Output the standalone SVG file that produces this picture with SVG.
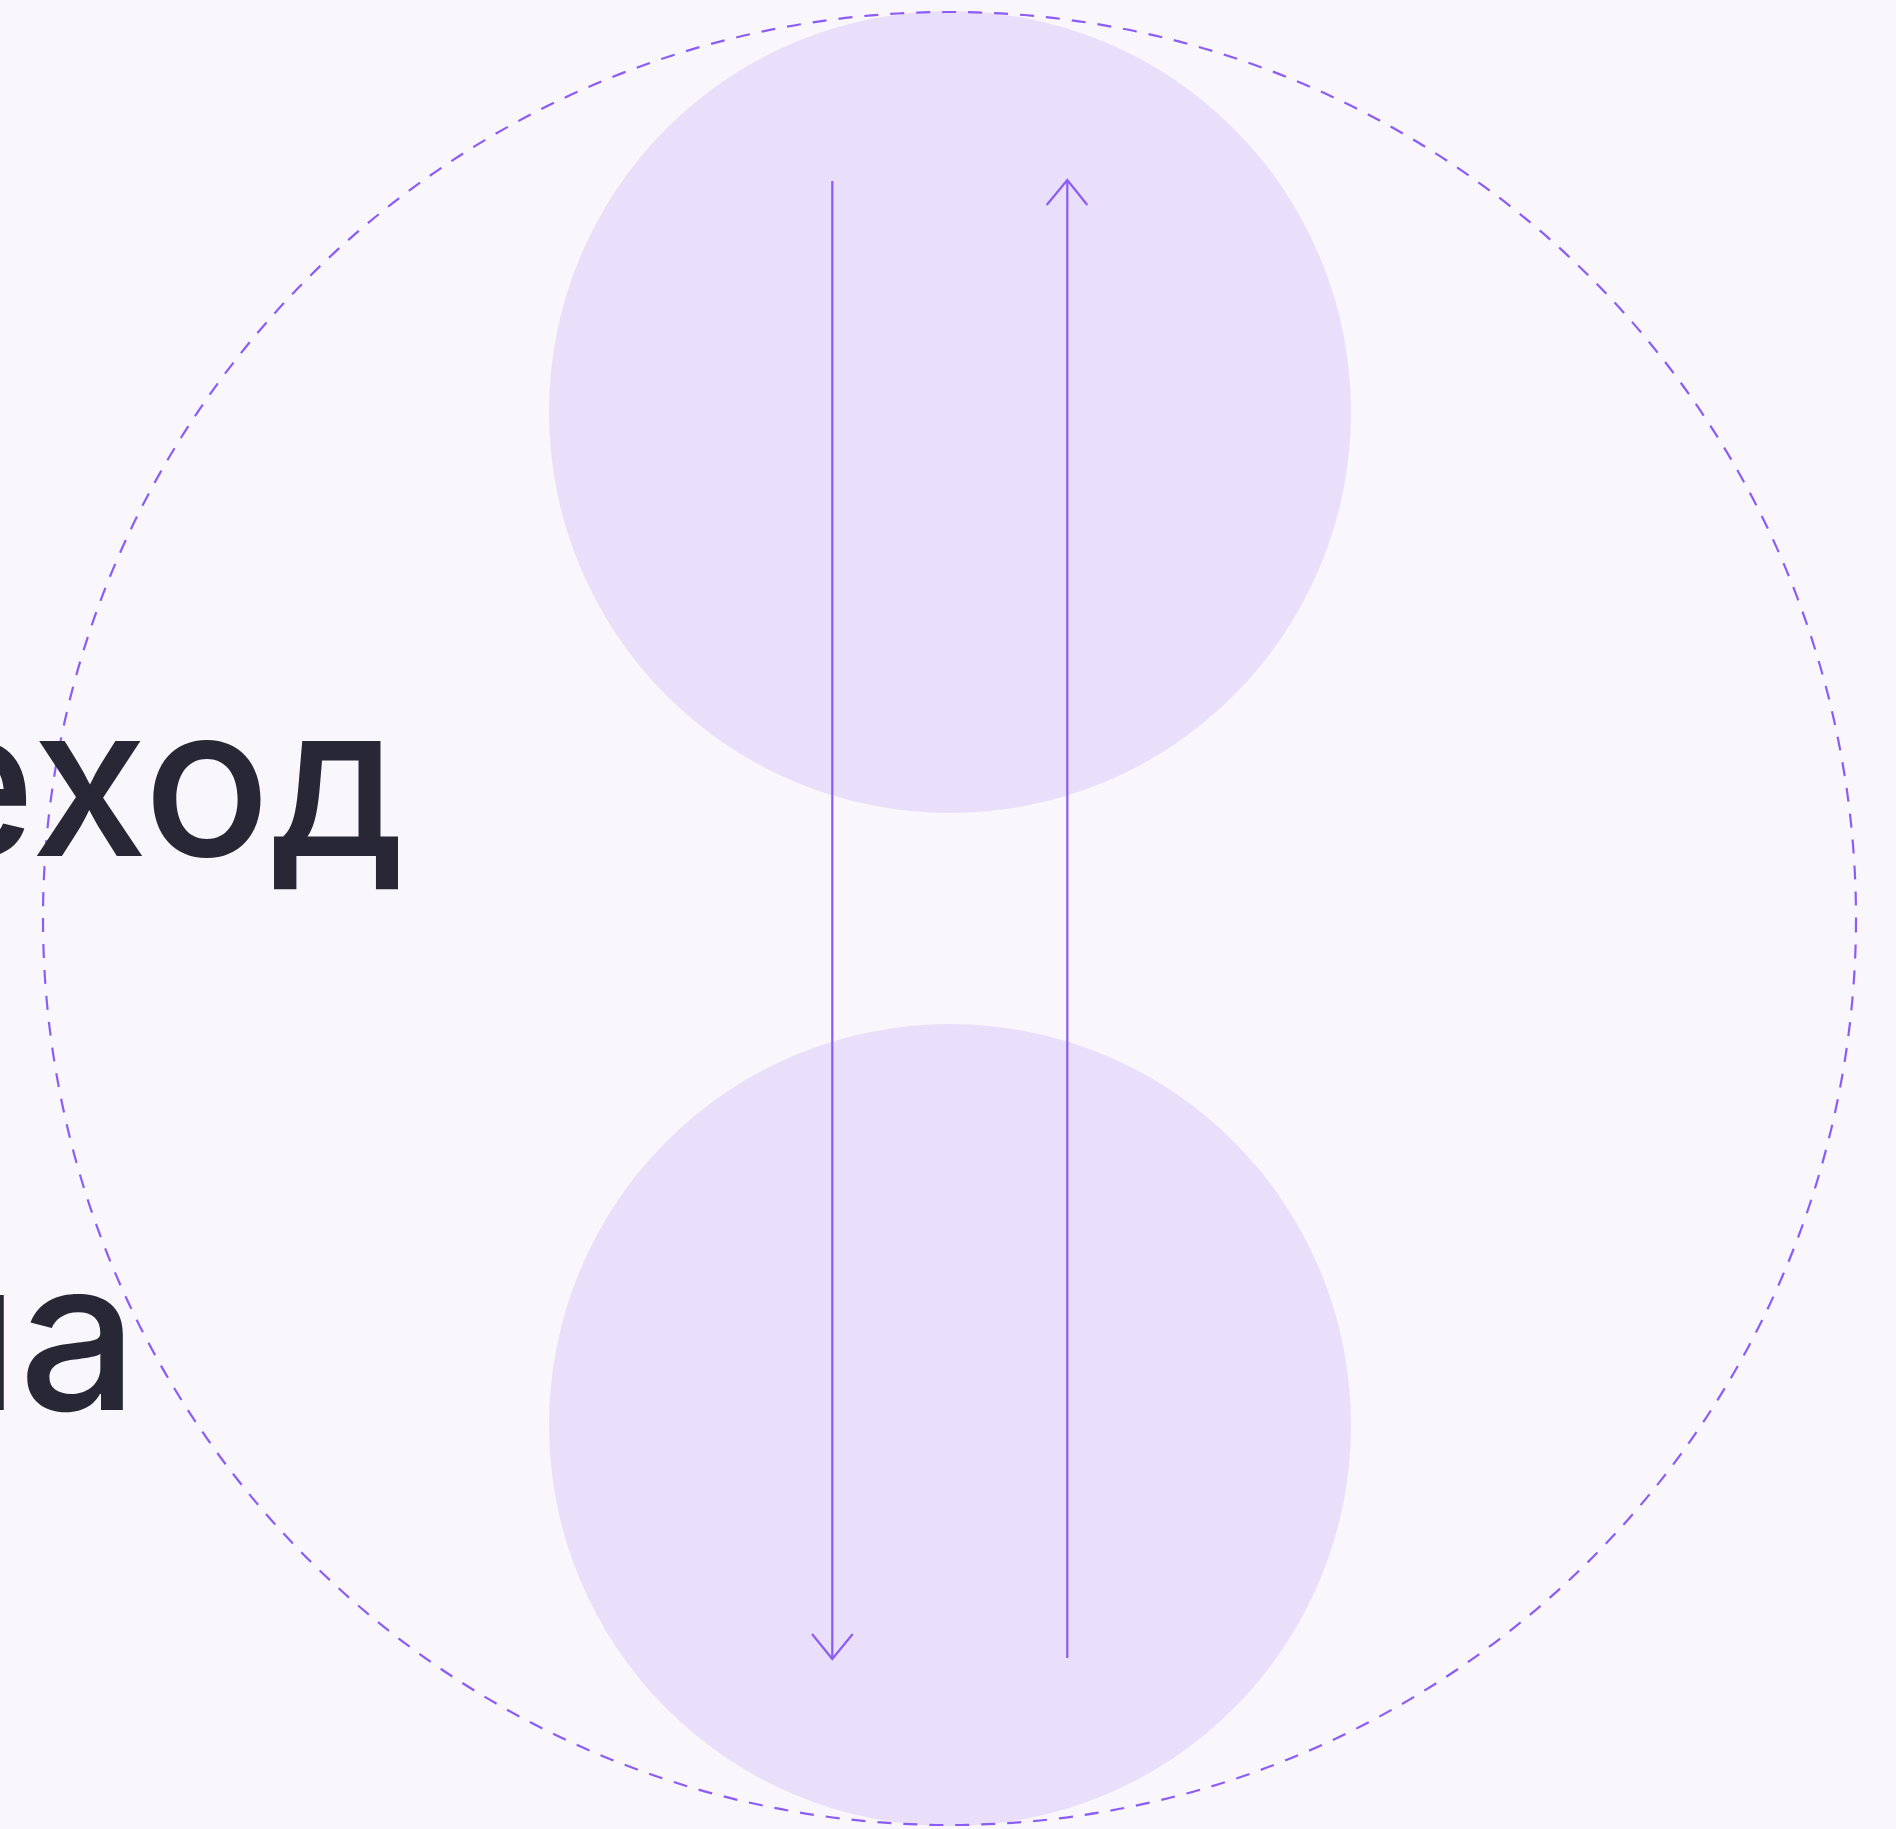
<svg xmlns="http://www.w3.org/2000/svg" width="1896" height="1829" viewBox="0 0 1896 1829">
<style>
.bg{fill:#f9f6fc}
.blob{fill:#e9dffa}
.ring{fill:none;stroke:#8b5cf6;stroke-width:2.2;stroke-dasharray:14 12}
.conn{fill:none;stroke:#8b5cf6;stroke-width:2.2}
.lbl{font-family:Inter,"Noto Sans",sans-serif;font-size:210px;font-weight:500;fill:#272735}
</style>
<rect class="bg" x="0" y="0" width="1896" height="1829"/>
<g id="top-node"><circle class="blob" cx="950" cy="412" r="401"/></g>
<g id="bottom-node"><circle class="blob" cx="950" cy="1425" r="401"/></g>
<g id="ring"><circle class="ring" cx="949.5" cy="918.5" r="906.5"/></g>
<g id="labels">
<text class="lbl" x="405" y="856" text-anchor="end">еход</text>
<text class="lbl" x="138" y="1410" text-anchor="end">на</text>
</g>
<g id="connectors">
<path class="conn" d="M832.3 181 V1659 M812 1634 L832.3 1659 L852.7 1634"/>
<path class="conn" d="M1067.3 1658 V181 M1046.7 205 L1067.3 180 L1087.3 205"/>
</g>
</svg>
